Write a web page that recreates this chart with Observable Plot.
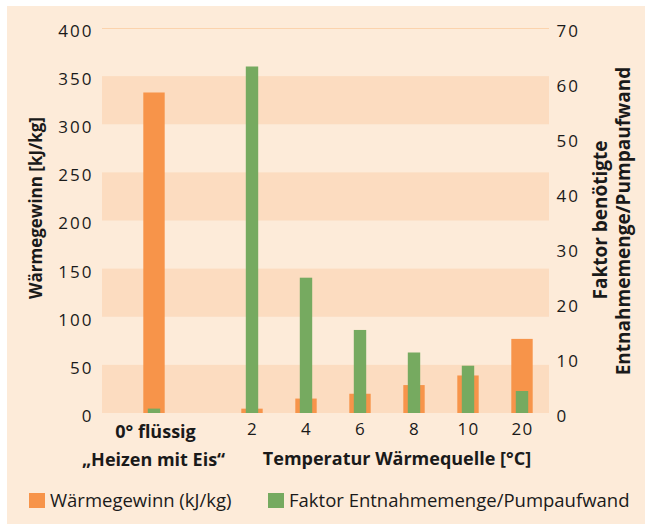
<!DOCTYPE html>
<html><head><meta charset="utf-8">
<script src="https://cdn.jsdelivr.net/npm/d3@7"></script>
<script src="https://cdn.jsdelivr.net/npm/@observablehq/plot@0.6"></script>
<style>
body{margin:0;background:#fff;font-family:"Open Sans",sans-serif;}
#card{position:absolute;left:7px;top:6px;width:638px;height:518px;background:#fdebd9;}
#chart{position:absolute;left:0;top:0;}
#legend{position:absolute;left:0;top:480px;width:645px;height:44px;font-size:18.5px;color:#1a1a1a;}
.sw{position:absolute;width:16px;height:15px;top:13px;}
.lt{position:absolute;top:9px;line-height:22px;white-space:nowrap;}
</style></head>
<body>
<div id="card"></div>
<div id="chart"></div>
<div id="legend">
  <div class="sw" style="left:29px;background:#f7944a"></div><div class="lt" style="left:50px">Wärmegewinn (kJ/kg)</div>
  <div class="sw" style="left:268px;background:#76aa60"></div><div class="lt" style="left:289px">Faktor Entnahmemenge/Pumpaufwand</div>
</div>
<script>
const categories = ["0° flüssig", "2", "4", "6", "8", "10", "20"];
const gain = [333, 4.5, 15, 20, 29, 39, 77];          // Wärmegewinn kJ/kg
const factor = [0.8, 63, 24.6, 15.1, 11, 8.6, 4];     // Faktor Entnahmemenge/Pumpaufwand
const leftTicks = [0, 50, 100, 150, 200, 250, 300, 350, 400];
const rightTicks = [0, 10, 20, 30, 40, 50, 60, 70];
const bandStarts = [0, 100, 200, 300];

const leftMax = 400, rightMax = 70;
const k = leftMax / rightMax;
const spacer = " ";
const domain = [categories[0], spacer, ...categories.slice(1)];
const data = categories.map((c, i) => ({cat: c, gain: gain[i], factor: factor[i] * k}));
const first = data.filter(d => d.cat === categories[0]);
const rest = data.filter(d => d.cat !== categories[0]);

const orange = "#f7944a", green = "#76aa60", ink = "#1a1a1a";
const font = "Open Sans";

const chart = Plot.plot({
  width: 645, height: 480,
  marginTop: 28, marginBottom: 67, marginLeft: 102, marginRight: 96,
  style: {background: "transparent", fontFamily: font, color: ink},
  x: {type: "band", domain, range: [114, 551], padding: 0, axis: null},
  y: {domain: [0, leftMax], axis: null},
  marks: [
    Plot.rectY(bandStarts, {y1: d => d, y2: d => d + 50, fill: "#fcdcc0"}),
    Plot.ruleY([leftMax], {stroke: "#fbd3ad", strokeWidth: 1}),
    Plot.barY(rest, {x: "cat", y: "gain", fill: orange, insetLeft: 16.3, insetRight: 16.3}),
    Plot.barY(rest, {x: "cat", y: "factor", fill: green, insetLeft: 20.8, insetRight: 20.8}),
    Plot.barY(first, {x: "cat", y: "gain", fill: orange, insetLeft: 16.3, insetRight: 16.3, dx: 10}),
    Plot.barY(first, {x: "cat", y: "factor", fill: green, insetLeft: 20.8, insetRight: 20.8, dx: 10}),
    Plot.axisY(leftTicks, {anchor: "left", tickSize: 0, tickPadding: 9, fontSize: 17, label: null, fill: ink, dy: 3}),
    Plot.axisY(rightTicks.map(v => v * k), {anchor: "right", tickSize: 0, tickPadding: 7, fontSize: 17, label: null, fill: ink, dy: 3,
      tickFormat: d => String(Math.round(d / k))}),
    Plot.axisX(categories.slice(1), {anchor: "bottom", tickSize: 0, tickPadding: 9, fontSize: 17, label: null, fill: ink}),
    Plot.text([categories[0]], {x: d => d, frameAnchor: "bottom", dy: 19, dx: 11, lineAnchor: "middle",
      fontSize: 18, fontWeight: "bold", fill: ink}),
    Plot.text(["„Heizen mit Eis“"], {x: () => categories[0], frameAnchor: "bottom", dy: 47, dx: 9, lineAnchor: "middle",
      fontSize: 18, fontWeight: "bold", fill: ink}),
    Plot.text(["Temperatur Wärmequelle [°C]"], {frameAnchor: "bottom", dy: 46, dx: 71, lineAnchor: "middle",
      fontSize: 18, fontWeight: "bold", fill: ink}),
    Plot.text(["Wärmegewinn [kJ/kg]"], {frameAnchor: "left", textAnchor: "middle", rotate: -90, dx: -66, dy: -13, lineAnchor: "middle",
      fontSize: 17, fontWeight: "bold", fill: ink}),
    Plot.text(["Faktor benötigte"], {frameAnchor: "right", textAnchor: "middle", rotate: -90, dx: 51, dy: -1, lineAnchor: "middle",
      fontSize: 19, fontWeight: "bold", fill: ink}),
    Plot.text(["Entnahmemenge/Pumpaufwand"], {frameAnchor: "right", textAnchor: "middle", rotate: -90, dx: 74, dy: 0, lineAnchor: "middle",
      fontSize: 19, fontWeight: "bold", fill: ink})
  ]
});
d3.select(chart).selectAll('g[aria-label="y-axis tick label"] text').style("letter-spacing", "2px");
d3.select(chart).selectAll('g[aria-label="x-axis tick label"] text').style("letter-spacing", "1.2px");
document.getElementById("chart").appendChild(chart);
</script>
</body></html>
